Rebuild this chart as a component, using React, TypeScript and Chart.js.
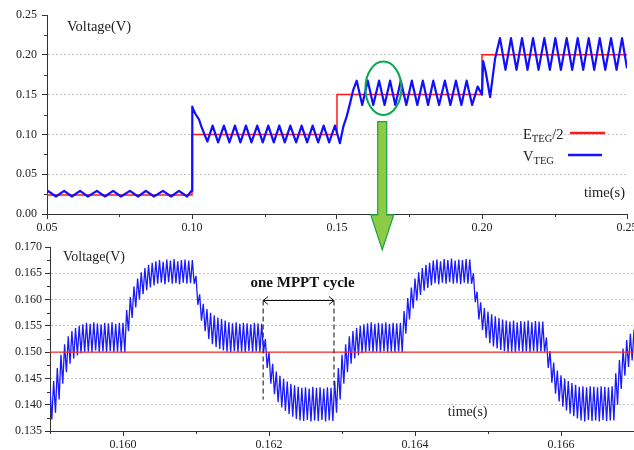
import React, { useEffect, useRef } from 'react';
import { Chart, registerables } from 'chart.js';
Chart.register(...registerables);

const FONT = "'Liberation Serif', 'Times New Roman', serif";
Chart.defaults.font.family = FONT;

// ---------- top panel data ----------
const topXTicks = [0.05, 0.10, 0.15, 0.20, 0.25];
const topXMinor = [0.075, 0.125, 0.175, 0.225];
const topYTicks = [0, 0.05, 0.10, 0.15, 0.20, 0.25];
const topYMinor = [0.025, 0.075, 0.125, 0.175, 0.225];

// E_TEG/2 step reference
const eStepTimes = [0.05, 0.10, 0.15, 0.20, 0.25];
const eStepHalf = [0.024, 0.10, 0.15, 0.20, 0.20];

// V_TEG vertices (time, voltage)
const vTegTimes = [
  0.0500, 0.0503, 0.0531, 0.0559, 0.0586, 0.0614, 0.0641, 0.0672, 0.0700, 0.0728,
  0.0755, 0.0786, 0.0814, 0.0841, 0.0869, 0.0900, 0.0928, 0.0955, 0.0983, 0.0998,
  0.1000, 0.1001, 0.1006, 0.1013, 0.1024, 0.1032, 0.1042, 0.1053, 0.1071, 0.1090,
  0.1110, 0.1129, 0.1148, 0.1167, 0.1186, 0.1205, 0.1225, 0.1244, 0.1263, 0.1282,
  0.1301, 0.1320, 0.1339, 0.1359, 0.1378, 0.1397, 0.1416, 0.1435, 0.1454, 0.1473,
  0.1493, 0.1510, 0.1522, 0.1533, 0.1545, 0.1556, 0.1568, 0.1587, 0.1606, 0.1625,
  0.1645, 0.1664, 0.1683, 0.1701, 0.1720, 0.1739, 0.1758, 0.1777, 0.1796, 0.1814,
  0.1832, 0.1852, 0.1872, 0.1891, 0.1910, 0.1929, 0.1947, 0.1966, 0.1985, 0.2000,
  0.2004, 0.2012, 0.2028, 0.2045, 0.2062, 0.2081, 0.2100, 0.2119, 0.2138, 0.2157,
  0.2176, 0.2195, 0.2215, 0.2234, 0.2253, 0.2272, 0.2292, 0.2311, 0.2330, 0.2349,
  0.2368, 0.2387, 0.2406, 0.2425, 0.2445, 0.2464, 0.2483, 0.2500,
];
const vTegVolts = [
  0.028, 0.029, 0.022, 0.029, 0.022, 0.029, 0.022, 0.029, 0.022, 0.029,
  0.022, 0.029, 0.022, 0.029, 0.022, 0.029, 0.022, 0.029, 0.022, 0.029,
  0.029, 0.135, 0.130, 0.125, 0.119, 0.110, 0.101, 0.091, 0.111, 0.090,
  0.111, 0.090, 0.111, 0.090, 0.111, 0.090, 0.111, 0.090, 0.111, 0.090,
  0.111, 0.090, 0.111, 0.090, 0.111, 0.090, 0.111, 0.090, 0.111, 0.090,
  0.111, 0.089, 0.110, 0.122, 0.139, 0.156, 0.1675, 0.137, 0.1675, 0.137,
  0.1675, 0.137, 0.1675, 0.137, 0.1675, 0.137, 0.1675, 0.137, 0.1675, 0.137,
  0.1675, 0.137, 0.1675, 0.137, 0.1675, 0.137, 0.1675, 0.137, 0.160, 0.150,
  0.192, 0.180, 0.147, 0.195, 0.221, 0.181, 0.221, 0.181, 0.221, 0.181,
  0.221, 0.181, 0.221, 0.181, 0.221, 0.181, 0.221, 0.181, 0.221, 0.181,
  0.221, 0.181, 0.221, 0.181, 0.221, 0.181, 0.221, 0.183,
];

// ---------- bottom (zoomed) panel data ----------
const botXTicks = [0.160, 0.162, 0.164, 0.166];
const botXMinor = [0.159, 0.161, 0.163, 0.165, 0.167];
const botYTicks = [0.135, 0.140, 0.145, 0.150, 0.155, 0.160, 0.165, 0.170];
const botYMinor = [0.1375, 0.1425, 0.1475, 0.1525, 0.1575, 0.1625, 0.1675];

const zoomStart = 0.159;
const zoomStep = 0.00005;
// ripple top (upper envelope) per sample
const zoomUpper = [
  0.1430, 0.1445, 0.1470, 0.1495, 0.1515, 0.1530, 0.1540, 0.1546, 0.1550, 0.1553,
  0.1556, 0.1554, 0.1557, 0.1555, 0.1553, 0.1556, 0.1555, 0.1557, 0.1554, 0.1556,
  0.1556, 0.1580, 0.1605, 0.1625, 0.1640, 0.1652, 0.1660, 0.1666, 0.1670, 0.1673,
  0.1675, 0.1672, 0.1676, 0.1674, 0.1677, 0.1673, 0.1675, 0.1676, 0.1674, 0.1675,
  0.1645, 0.1610, 0.1592, 0.1582, 0.1575, 0.1570, 0.1566, 0.1563, 0.1560, 0.1557,
  0.1555, 0.1557, 0.1554, 0.1556, 0.1555, 0.1553, 0.1556, 0.1555, 0.1554, 0.1525,
  0.1500, 0.1478, 0.1463, 0.1455, 0.1449, 0.1444, 0.1440, 0.1437, 0.1434, 0.1432,
  0.1433, 0.1431, 0.1434, 0.1432, 0.1433, 0.1431, 0.1433, 0.1432, 0.1445, 0.1470,
  0.1495, 0.1515, 0.1530, 0.1540, 0.1546, 0.1550, 0.1553, 0.1555, 0.1557, 0.1554,
  0.1556, 0.1555, 0.1557, 0.1554, 0.1556, 0.1555, 0.1556, 0.1578, 0.1603, 0.1623,
  0.1640, 0.1652, 0.1660, 0.1666, 0.1670, 0.1674, 0.1676, 0.1673, 0.1677, 0.1675,
  0.1678, 0.1674, 0.1676, 0.1675, 0.1677, 0.1676, 0.1650, 0.1615, 0.1595, 0.1584,
  0.1577, 0.1572, 0.1568, 0.1565, 0.1562, 0.1560, 0.1558, 0.1560, 0.1557, 0.1559,
  0.1558, 0.1560, 0.1557, 0.1559, 0.1558, 0.1558, 0.1528, 0.1502, 0.1480, 0.1465,
  0.1456, 0.1450, 0.1445, 0.1441, 0.1438, 0.1434, 0.1435, 0.1433, 0.1435, 0.1434,
  0.1433, 0.1435, 0.1434, 0.1433, 0.1435, 0.1460, 0.1485, 0.1507, 0.1523, 0.1535, 0.1543,
];
// ripple bottom (lower envelope) per sample
const zoomLower = [
  0.1372, 0.1385, 0.1410, 0.1440, 0.1462, 0.1478, 0.1488, 0.1494, 0.1498, 0.1500,
  0.1501, 0.1500, 0.1503, 0.1500, 0.1501, 0.1500, 0.1502, 0.1500, 0.1501, 0.1500,
  0.1500, 0.1540, 0.1565, 0.1585, 0.1600, 0.1610, 0.1618, 0.1623, 0.1627, 0.1630,
  0.1632, 0.1629, 0.1633, 0.1630, 0.1631, 0.1629, 0.1632, 0.1630, 0.1631, 0.1630,
  0.1590, 0.1560, 0.1540, 0.1525, 0.1515, 0.1510, 0.1506, 0.1503, 0.1501, 0.1500,
  0.1502, 0.1500, 0.1501, 0.1500, 0.1502, 0.1500, 0.1501, 0.1500, 0.1500, 0.1470,
  0.1440, 0.1420, 0.1405, 0.1395, 0.1388, 0.1382, 0.1377, 0.1373, 0.1370, 0.1369,
  0.1371, 0.1368, 0.1370, 0.1369, 0.1371, 0.1368, 0.1370, 0.1369, 0.1385, 0.1410,
  0.1440, 0.1462, 0.1478, 0.1488, 0.1494, 0.1498, 0.1500, 0.1502, 0.1500, 0.1501,
  0.1500, 0.1502, 0.1500, 0.1501, 0.1500, 0.1501, 0.1500, 0.1535, 0.1562, 0.1583,
  0.1598, 0.1609, 0.1617, 0.1622, 0.1627, 0.1631, 0.1629, 0.1632, 0.1630, 0.1633,
  0.1630, 0.1631, 0.1629, 0.1632, 0.1630, 0.1630, 0.1595, 0.1562, 0.1542, 0.1527,
  0.1517, 0.1511, 0.1507, 0.1504, 0.1502, 0.1500, 0.1501, 0.1500, 0.1502, 0.1500,
  0.1501, 0.1500, 0.1502, 0.1500, 0.1501, 0.1500, 0.1470, 0.1442, 0.1421, 0.1406,
  0.1396, 0.1389, 0.1383, 0.1378, 0.1374, 0.1370, 0.1368, 0.1371, 0.1369, 0.1370,
  0.1368, 0.1371, 0.1369, 0.1370, 0.1370, 0.1400, 0.1430, 0.1455, 0.1472, 0.1484, 0.1491,
];
const zoomRefTimes = [0.159, 0.167];
const zoomRefHalf = [0.150, 0.150];
const mpptCycle = [0.16192, 0.16289];
const mpptArrowLevel = 0.160;
const mpptDashBottom = [0.1410, 0.1430];

// annotation anchors (in data units of the top panel)
const ellipseCenter = { t: 0.1660, v: 0.158 };
const ellipseRadius = { t: 0.0062, v: 0.0335 };
const arrowX = 0.1656;
const arrowTop = 0.116;
const arrowHeadTop = -0.001;
const arrowTip = -0.045;

const TXT = '#222';
const AX = '#333';

function drawMinor(chart: any, xs: number[], ys: number[]) {
  const { ctx, chartArea, scales } = chart;
  ctx.save();
  ctx.strokeStyle = AX;
  ctx.lineWidth = 1;
  ctx.beginPath();
  xs.forEach((v) => {
    const p = Math.round(scales.x.getPixelForValue(v)) + 0.5;
    ctx.moveTo(p, chartArea.bottom);
    ctx.lineTo(p, chartArea.bottom + 3);
  });
  ys.forEach((v) => {
    const p = Math.round(scales.y.getPixelForValue(v)) + 0.5;
    ctx.moveTo(chartArea.left, p);
    ctx.lineTo(chartArea.left - 3, p);
  });
  ctx.stroke();
  ctx.restore();
}

function gridColor(n: number) {
  return (c: any) => (c.index === 0 || c.index === n - 1 ? 'rgba(0,0,0,0)' : '#c4c4c4');
}

const topPlugin = {
  id: 'topDeco',
  afterDraw(chart: any) {
    const { ctx, chartArea: a, scales } = chart;
    const xs = scales.x, ys = scales.y;
    drawMinor(chart, topXMinor, topYMinor);
    ctx.save();
    ctx.fillStyle = TXT;
    ctx.font = `14.5px ${FONT}`;
    ctx.textBaseline = 'alphabetic';
    ctx.textAlign = 'left';
    ctx.fillText('Voltage(V)', a.left + 20, a.top + 16);
    ctx.textAlign = 'right';
    ctx.fillText('time(s)', a.right - 2, a.bottom - 17);

    // legend
    const lx = a.right - 104;
    const rows = [
      { main: 'E', sub: 'TEG', tail: '/2', color: '#ff1a1a', base: a.bottom - 75, l0: a.right - 57, l1: a.right - 22 },
      { main: 'V', sub: 'TEG', tail: '', color: '#1414ff', base: a.bottom - 53, l0: a.right - 59, l1: a.right - 25 },
    ];
    ctx.textAlign = 'left';
    rows.forEach((r) => {
      let x = lx;
      ctx.font = `14.5px ${FONT}`;
      ctx.fillText(r.main, x, r.base);
      x += ctx.measureText(r.main).width;
      ctx.font = `10.5px ${FONT}`;
      ctx.fillText(r.sub, x, r.base + 3);
      x += ctx.measureText(r.sub).width;
      ctx.font = `14.5px ${FONT}`;
      if (r.tail) ctx.fillText(r.tail, x, r.base);
      ctx.strokeStyle = r.color;
      ctx.lineWidth = 2.5;
      ctx.beginPath();
      ctx.moveTo(r.l0, r.base - 6);
      ctx.lineTo(r.l1, r.base - 6);
      ctx.stroke();
    });

    // green ellipse
    const cx = xs.getPixelForValue(ellipseCenter.t);
    const cy = ys.getPixelForValue(ellipseCenter.v);
    const rx = xs.getPixelForValue(ellipseCenter.t + ellipseRadius.t) - cx;
    const ry = cy - ys.getPixelForValue(ellipseCenter.v + ellipseRadius.v);
    ctx.strokeStyle = '#0aa84f';
    ctx.lineWidth = 2;
    ctx.beginPath();
    ctx.ellipse(cx, cy, rx, ry, 0, 0, Math.PI * 2);
    ctx.stroke();

    // green arrow
    const ax = xs.getPixelForValue(arrowX);
    const y0 = ys.getPixelForValue(arrowTop);
    const y1 = ys.getPixelForValue(arrowHeadTop);
    const y2 = ys.getPixelForValue(arrowTip);
    ctx.beginPath();
    ctx.moveTo(ax - 4.5, y0);
    ctx.lineTo(ax + 4.5, y0);
    ctx.lineTo(ax + 4.5, y1);
    ctx.lineTo(ax + 11.5, y1);
    ctx.lineTo(ax, y2);
    ctx.lineTo(ax - 11.5, y1);
    ctx.lineTo(ax - 4.5, y1);
    ctx.closePath();
    ctx.fillStyle = '#8dcb45';
    ctx.fill();
    ctx.strokeStyle = '#17a34a';
    ctx.lineWidth = 1.2;
    ctx.stroke();
    ctx.restore();
  },
};

const botPlugin = {
  id: 'botDeco',
  afterDraw(chart: any) {
    const { ctx, chartArea: a, scales } = chart;
    const xs = scales.x, ys = scales.y;
    drawMinor(chart, botXMinor, botYMinor);
    ctx.save();
    ctx.fillStyle = TXT;
    ctx.font = `14px ${FONT}`;
    ctx.textAlign = 'left';
    ctx.textBaseline = 'alphabetic';
    ctx.fillText('Voltage(V)', a.left + 13, a.top + 14);
    ctx.fillText('time(s)', xs.getPixelForValue(0.16445), a.bottom - 15);

    // MPPT cycle annotation
    const xa = xs.getPixelForValue(mpptCycle[0]);
    const xb = xs.getPixelForValue(mpptCycle[1]);
    const yl = Math.round(ys.getPixelForValue(mpptArrowLevel)) + 0.5;
    ctx.strokeStyle = '#333';
    ctx.lineWidth = 1.2;
    ctx.setLineDash([5, 3]);
    ctx.beginPath();
    ctx.moveTo(xa, yl);
    ctx.lineTo(xa, ys.getPixelForValue(mpptDashBottom[0]));
    ctx.moveTo(xb, yl);
    ctx.lineTo(xb, ys.getPixelForValue(mpptDashBottom[1]));
    ctx.stroke();
    ctx.setLineDash([]);
    ctx.lineWidth = 1;
    ctx.strokeStyle = '#111';
    ctx.beginPath();
    ctx.moveTo(xa, yl);
    ctx.lineTo(xb, yl);
    ctx.moveTo(xa + 5, yl - 4);
    ctx.lineTo(xa, yl);
    ctx.lineTo(xa + 5, yl + 4);
    ctx.moveTo(xb - 5, yl - 4);
    ctx.lineTo(xb, yl);
    ctx.lineTo(xb - 5, yl + 4);
    ctx.stroke();
    ctx.font = `bold 15px ${FONT}`;
    ctx.fillStyle = '#111';
    ctx.textAlign = 'center';
    ctx.fillText('one MPPT cycle', (xa + xb) / 2 + 4, yl - 14);
    ctx.restore();
  },
};

function axisCommon(ticksArr: number[], digits: number, pad: number) {
  return {
    type: 'linear' as const,
    afterBuildTicks: (s: any) => {
      s.ticks = ticksArr.map((v) => ({ value: v }));
    },
    ticks: {
      autoSkip: false,
      maxRotation: 0,
      padding: pad,
      color: TXT,
      font: { size: 12, family: FONT },
      callback: (v: any) => Number(v).toFixed(digits),
    },
    border: { color: AX, width: 1, dash: [2, 2] },
  };
}

export default function App() {
  const topRef = useRef<HTMLCanvasElement>(null);
  const botRef = useRef<HTMLCanvasElement>(null);

  useEffect(() => {
    document.body.style.margin = '0';

    const topChart = new Chart(topRef.current as HTMLCanvasElement, {
      type: 'line',
      data: {
        datasets: [
          {
            label: 'V_TEG',
            data: vTegTimes.map((t, i) => ({ x: t, y: vTegVolts[i] })),
            borderColor: '#1010ff',
            borderWidth: 2.2,
            pointRadius: 0,
            tension: 0,
            borderJoinStyle: 'round',
          },
          {
            label: 'E_TEG/2',
            data: eStepTimes.map((t, i) => ({ x: t, y: eStepHalf[i] })),
            borderColor: '#ff1a1a',
            borderWidth: 1.5,
            pointRadius: 0,
            stepped: 'before',
          },
        ],
      } as any,
      options: {
        responsive: false,
        animation: false,
        events: [],
        layout: { padding: { left: 0, top: 15, right: 33, bottom: 214 } },
        plugins: { legend: { display: false }, tooltip: { enabled: false } },
        scales: {
          x: {
            ...axisCommon(topXTicks, 2, 2),
            min: 0.05,
            max: 0.25,
            afterFit: (s: any) => { s.height = 22; },
            grid: { drawOnChartArea: false, drawTicks: true, tickLength: 5, tickColor: AX },
          },
          y: {
            ...axisCommon(topYTicks, 2, 5),
            min: 0,
            max: 0.25,
            afterFit: (s: any) => { s.width = 47; },
            grid: { color: gridColor(topYTicks.length), tickLength: 5, tickColor: AX, lineWidth: 1 },
          },
        },
      } as any,
      plugins: [topPlugin],
    });

    const zoomPts: { x: number; y: number }[] = [];
    zoomUpper.forEach((u, i) => {
      const t = zoomStart + i * zoomStep;
      zoomPts.push({ x: t, y: u });
      zoomPts.push({ x: t + zoomStep / 2, y: zoomLower[i] });
    });

    const botChart = new Chart(botRef.current as HTMLCanvasElement, {
      type: 'line',
      data: {
        datasets: [
          {
            label: 'E_TEG/2',
            data: zoomRefTimes.map((t, i) => ({ x: t, y: zoomRefHalf[i] })),
            borderColor: '#ff2a2a',
            borderWidth: 1.2,
            pointRadius: 0,
          },
          {
            label: 'V_TEG',
            data: zoomPts,
            borderColor: '#1a1aff',
            borderWidth: 1.3,
            pointRadius: 0,
            tension: 0,
            borderJoinStyle: 'bevel',
          },
        ],
      } as any,
      options: {
        responsive: false,
        animation: false,
        events: [],
        layout: { padding: { left: 0, top: 247, right: 26, bottom: 0 } },
        plugins: { legend: { display: false }, tooltip: { enabled: false } },
        scales: {
          x: {
            ...axisCommon(botXTicks, 3, 2),
            min: 0.159,
            max: 0.167,
            afterFit: (s: any) => { s.height = 19; },
            grid: { drawOnChartArea: false, drawTicks: true, tickLength: 5, tickColor: AX },
          },
          y: {
            ...axisCommon(botYTicks, 3, 3),
            min: 0.135,
            max: 0.170,
            afterFit: (s: any) => { s.width = 50; },
            grid: { color: gridColor(botYTicks.length), tickLength: 5, tickColor: AX, lineWidth: 1 },
          },
        },
      } as any,
      plugins: [botPlugin],
    });

    return () => {
      topChart.destroy();
      botChart.destroy();
    };
  }, []);

  return (
    <div style={{ position: 'relative', width: 634, height: 450, overflow: 'hidden', background: '#fff' }}>
      <canvas ref={topRef} width={660} height={450} style={{ position: 'absolute', left: 0, top: 0 }} />
      <canvas ref={botRef} width={660} height={450} style={{ position: 'absolute', left: 0, top: 0 }} />
    </div>
  );
}
